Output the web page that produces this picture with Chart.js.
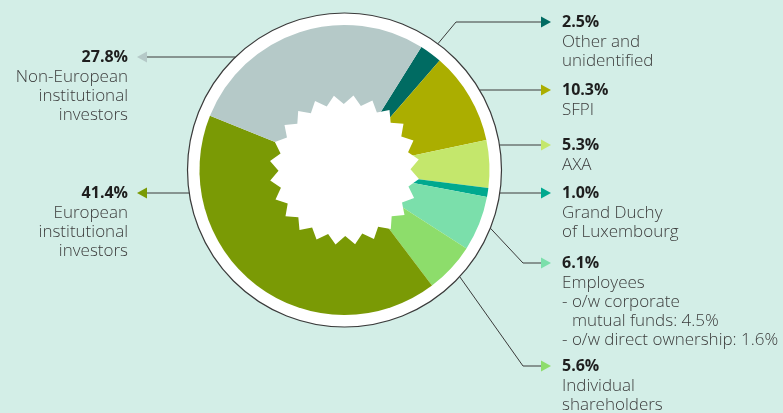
<!DOCTYPE html>
<html>
<head>
<meta charset="utf-8">
<script src="https://cdn.jsdelivr.net/npm/chart.js@4.4.0/dist/chart.umd.min.js"></script>
<style>
  html, body { margin: 0; padding: 0; background: #d3eee7; }
  #wrap { width: 783px; height: 413px; position: relative; overflow: hidden; }
</style>
</head>
<body>
<div id="wrap"><canvas id="shareChart"></canvas></div>
<script>
// shareholding structure, clockwise from the top right
var labels = ["Other and unidentified", "SFPI", "AXA", "Grand Duchy of Luxembourg", "Employees",
              "Individual shareholders", "European institutional investors", "Non-European institutional investors"];
var shares = [2.5, 10.3, 5.3, 1.0, 6.1, 5.6, 41.4, 27.8];
var details = [
  ["Other and", "unidentified"],
  ["SFPI"],
  ["AXA"],
  ["Grand Duchy", "of Luxembourg"],
  ["Employees", "- o/w corporate", "  mutual funds: 4.5%", "- o/w direct ownership: 1.6%"],
  ["Individual", "shareholders"],
  ["European", "institutional", "investors"],
  ["Non-European", "institutional", "investors"]
];

var colours = ["#006b62", "#abae00", "#c4e76c", "#00a98f", "#7bdfab", "#8ddd6b", "#7a9a05", "#b5c9c8"];

// where each callout sits (text y, and x of the elbow when the line is bent)
var callouts = [
  { side: "right", y: 22, elbow: 456 },
  { side: "right", y: 90 },
  { side: "right", y: 145 },
  { side: "right", y: 193 },
  { side: "right", y: 263, elbow: 523 },
  { side: "right", y: 366, elbow: 523 },
  { side: "left", y: 193 },
  { side: "left", y: 57 }
];

var FONT = "'Open Sans', 'Noto Sans', sans-serif";

var ringPlugin = {
  id: 'ring',
  beforeDatasetsDraw: function(chart) {
    var a = chart.getDatasetMeta(0).data[0];
    var ctx = chart.ctx;
    ctx.save();
    ctx.beginPath();
    ctx.arc(a.x, a.y, a.outerRadius + 12, 0, Math.PI * 2);
    ctx.fillStyle = '#ffffff';
    ctx.fill();
    ctx.lineWidth = 1.2;
    ctx.strokeStyle = '#3a3a3a';
    ctx.stroke();
    ctx.restore();
  },
  afterDatasetsDraw: function(chart) {
    var meta = chart.getDatasetMeta(0);
    var ctx = chart.ctx;
    var cx = meta.data[0].x, cy = meta.data[0].y;
    var ringR = meta.data[0].outerRadius + 12;

    // white starburst in the middle
    var teeth = 24, rOut = 75, rIn = 66;
    ctx.save();
    ctx.beginPath();
    for (var k = 0; k < teeth * 2; k++) {
      var ang = -Math.PI / 2 + 0.12 + k * Math.PI / teeth;
      var r = (k % 2 == 0) ? rOut : rIn;
      var px = cx + r * Math.cos(ang), py = cy + r * Math.sin(ang);
      if (k == 0) ctx.moveTo(px, py); else ctx.lineTo(px, py);
    }
    ctx.closePath();
    ctx.fillStyle = '#ffffff';
    ctx.fill();
    ctx.restore();

    // callouts
    meta.data.forEach(function(arc, i) {
      var c = callouts[i];
      var right = c.side == "right";
      var baseX = right ? 541 : 147;
      var tipX = right ? 551 : 137;
      var textX = right ? 562 : 128;

      ctx.save();
      ctx.strokeStyle = '#3a3a3a';
      ctx.lineWidth = 1;
      ctx.beginPath();
      if (c.elbow) {
        var mid = (arc.startAngle + arc.endAngle) / 2;
        ctx.moveTo(cx + ringR * Math.cos(mid), cy + ringR * Math.sin(mid));
        ctx.lineTo(c.elbow, c.y);
      } else {
        var dx = Math.sqrt(Math.max(0, ringR * ringR - (c.y - cy) * (c.y - cy)));
        ctx.moveTo(right ? cx + dx : cx - dx, c.y);
      }
      ctx.lineTo(baseX, c.y);
      ctx.stroke();

      // arrow head in the slice colour
      ctx.beginPath();
      ctx.moveTo(baseX, c.y - 5.5);
      ctx.lineTo(tipX, c.y);
      ctx.lineTo(baseX, c.y + 5.5);
      ctx.closePath();
      ctx.fillStyle = colours[i];
      ctx.fill();

      // texts
      ctx.textAlign = right ? 'left' : 'right';
      ctx.textBaseline = 'middle';
      ctx.fillStyle = '#1e1e1e';
      ctx.font = "bold 16px " + FONT;
      ctx.fillText(shares[i].toFixed(1) + '%', textX, c.y);
      ctx.fillStyle = '#3c3c3c';
      ctx.font = "300 17px " + FONT;
      var dashW = ctx.measureText('- ').width;
      details[i].forEach(function(line, j) {
        var x = textX;
        if (line.indexOf('  ') == 0) { line = line.trim(); x += dashW; }
        ctx.fillText(line, x, c.y + 20.5 + j * 19);
      });
      ctx.restore();
    });
  }
};

var ctx = document.getElementById('shareChart').getContext('2d');
var chart = new Chart(ctx, {
  type: 'pie',
  data: {
    labels: labels,
    datasets: [{
      data: shares,
      backgroundColor: colours,
      borderWidth: 0,
      radius: 145
    }]
  },
  options: {
    responsive: true,
    maintainAspectRatio: false,
    animation: false,
    rotation: 32,
    layout: { padding: { left: 100, right: 194, top: 0, bottom: 73 } },
    plugins: {
      legend: { display: false },
      tooltip: { enabled: false }
    }
  },
  plugins: [ringPlugin]
});
</script>
</body>
</html>
